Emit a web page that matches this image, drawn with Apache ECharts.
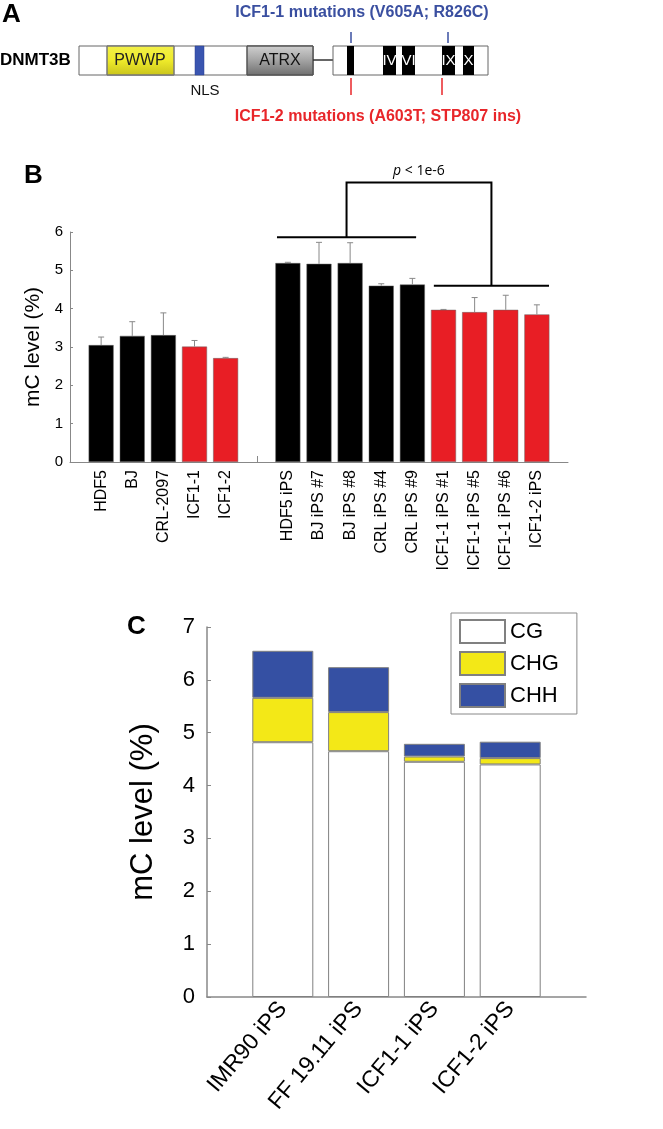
<!DOCTYPE html>
<html>
<head>
<meta charset="utf-8">
<script src="https://cdn.jsdelivr.net/npm/echarts@6/dist/echarts.min.js"></script>
<style>
html,body{margin:0;padding:0;background:#fff}
#main{width:663px;height:1129px}
</style>
</head>
<body>
<div id="main"></div>
<script>
// ---- panel B data ----
const parentCells = ['HDF5', 'BJ', 'CRL-2097', 'ICF1-1', 'ICF1-2']
const parentLevel = [3.05, 3.29, 3.31, 3.01, 2.71]
const parentErr = [0.21, 0.37, 0.58, 0.16, 0.02]

const ipsCells = ['HDF5 iPS', 'BJ iPS #7', 'BJ iPS #8', 'CRL iPS #4', 'CRL iPS #9',
  'ICF1-1 iPS #1', 'ICF1-1 iPS #5', 'ICF1-1 iPS #6', 'ICF1-2 iPS']
const ipsLevel = [5.19, 5.17, 5.19, 4.60, 4.63, 3.97, 3.91, 3.97, 3.85]
const ipsErr = [0.02, 0.56, 0.53, 0.05, 0.16, 0.01, 0.38, 0.38, 0.25]

const pLabel = 'p < 1e-6'

// ---- panel C data ----
const lines = ['IMR90 iPS', 'FF 19.11 iPS', 'ICF1-1 iPS', 'ICF1-2 iPS']
const cgLevel = [4.82, 4.65, 4.45, 4.40]
const chgLevel = [0.84, 0.74, 0.10, 0.12]
const chhLevel = [0.89, 0.85, 0.24, 0.31]

const FONT = 'Liberation Sans, Arial, sans-serif'
const NARROW = 'Liberation Sans Narrow, Liberation Sans, Arial, sans-serif'
const RED = '#e81e25'
const GRAY = '#888'

// B的类目：两端和两组之间各留一个空位
const catsB = [''].concat(parentCells, [''], ipsCells, [''])
const levelB = [null].concat(parentLevel, [null], ipsLevel, [null])
const errB = [null].concat(parentErr, [null], ipsErr, [null])
const gapIndex = parentCells.length + 1

const barDataB = levelB.map((v, i) => {
  if (v === null) return '-'
  return {
    value: v,
    itemStyle: {color: catsB[i].indexOf('ICF') === 0 ? RED : '#000'}
  }
})
const errDataB = []
levelB.forEach((v, i) => {
  if (v !== null) errDataB.push([i, v, errB[i]])
})

const catsC = [''].concat(lines, [''])
const pad = arr => [null].concat(arr, [null])

const chart = echarts.init(document.getElementById('main'))

/**
 * 画A图：DNMT3B 结构示意
 */
function diagramA() {
  const y0 = 46, h = 29
  const els = []
  els.push({type: 'text', left: 2, top: 2, style: {text: 'A', font: 'bold 26px ' + FONT, fill: '#000'}})
  els.push({type: 'text', left: 0, top: 52, style: {text: 'DNMT3B', font: 'bold 17px ' + FONT, fill: '#000'}})
  // 第一段
  els.push({type: 'rect', shape: {x: 79, y: y0, width: 234, height: h}, style: {fill: '#fff', stroke: '#666', lineWidth: 1}})
  els.push({type: 'rect', shape: {x: 107, y: y0, width: 67, height: h},
    style: {fill: new echarts.graphic.LinearGradient(0, 0, 0, 1, [
      {offset: 0, color: '#f2f04a'}, {offset: 0.5, color: '#eeea2a'}, {offset: 1, color: '#c9c41c'}]), stroke: '#777', lineWidth: 1}})
  els.push({type: 'text', x: 140, y: y0 + h / 2, style: {text: 'PWWP', font: '16px ' + FONT, fill: '#222', align: 'center', verticalAlign: 'middle'}})
  els.push({type: 'rect', shape: {x: 195, y: y0, width: 9, height: h}, style: {fill: '#3a55b0', stroke: '#2a3f90', lineWidth: 0.5}})
  els.push({type: 'text', x: 205, y: 91, style: {text: 'NLS', font: '15px ' + FONT, fill: '#111', align: 'center', verticalAlign: 'middle'}})
  els.push({type: 'rect', shape: {x: 247, y: y0, width: 66, height: h},
    style: {fill: new echarts.graphic.LinearGradient(0, 0, 0, 1, [
      {offset: 0, color: '#d0d0d0'}, {offset: 0.45, color: '#a8a8a8'}, {offset: 1, color: '#6e6e6e'}]), stroke: '#555', lineWidth: 1}})
  els.push({type: 'text', x: 280, y: y0 + h / 2, style: {text: 'ATRX', font: '16px ' + FONT, fill: '#111', align: 'center', verticalAlign: 'middle'}})
  els.push({type: 'line', shape: {x1: 313, y1: 60, x2: 333, y2: 60}, style: {stroke: '#333', lineWidth: 1.5}})
  // 第二段
  els.push({type: 'rect', shape: {x: 333, y: y0, width: 155, height: h}, style: {fill: '#fff', stroke: '#666', lineWidth: 1}})
  const motifs = [[347, 7, ''], [383, 13, 'IV'], [402, 13, 'VI'], [442, 13, 'IX'], [463, 11, 'X']]
  motifs.forEach(m => {
    els.push({type: 'rect', shape: {x: m[0], y: y0, width: m[1], height: h}, style: {fill: '#000'}})
    if (m[2]) {
      els.push({type: 'text', x: m[0] + m[1] / 2, y: y0 + h / 2, style: {text: m[2], font: '15px ' + FONT, fill: '#fff', align: 'center', verticalAlign: 'middle'}})
    }
  })
  // 突变标记
  const blue = '#3a4fa0'
  ;[351, 448].forEach(x => els.push({type: 'line', shape: {x1: x, y1: 32, x2: x, y2: 43}, style: {stroke: blue, lineWidth: 1.5}}))
  ;[351, 442].forEach(x => els.push({type: 'line', shape: {x1: x, y1: 78, x2: x, y2: 95}, style: {stroke: '#e8262a', lineWidth: 1.5}}))
  els.push({type: 'text', x: 362, y: 13, style: {text: 'ICF1-1 mutations (V605A; R826C)', font: 'bold 16px ' + NARROW, fill: blue, align: 'center', verticalAlign: 'middle'}})
  els.push({type: 'text', x: 378, y: 117, style: {text: 'ICF1-2 mutations (A603T; STP807 ins)', font: 'bold 16px ' + NARROW, fill: '#e8262a', align: 'center', verticalAlign: 'middle'}})
  els.push({type: 'text', left: 24, top: 163, style: {text: 'B', font: 'bold 26px ' + FONT, fill: '#000'}})
  els.push({type: 'text', left: 127, top: 614, style: {text: 'C', font: 'bold 26px ' + FONT, fill: '#000'}})
  return els
}

const option = {
  animation: false,
  backgroundColor: '#fff',
  textStyle: {fontFamily: FONT},
  grid: [
    {left: 70, right: 95, top: 232, bottom: 667, containLabel: false},
    {left: 207, right: 77, top: 627, bottom: 132, containLabel: false}
  ],
  legend: {
    data: ['CG', 'CHG', 'CHH'],
    orient: 'vertical',
    left: 451,
    top: 613,
    padding: [6, 18, 6, 8],
    itemWidth: 45,
    itemHeight: 23,
    itemGap: 7,
    borderColor: GRAY,
    borderWidth: 1,
    textStyle: {fontSize: 22, color: '#000', fontFamily: FONT, lineHeight: 24},
    icon: 'rect'
  },
  xAxis: [
    {
      type: 'category', gridIndex: 0, data: catsB, boundaryGap: false,
      axisLine: {lineStyle: {color: GRAY, width: 1}},
      axisTick: {show: true, inside: true, length: 6, interval: (i) => i === gapIndex, lineStyle: {color: GRAY}},
      axisLabel: {interval: 0, rotate: 90, fontSize: 16, color: '#000', margin: 8}
    },
    {
      type: 'category', gridIndex: 1, data: catsC, boundaryGap: false,
      axisLine: {lineStyle: {color: GRAY, width: 1.5}},
      axisTick: {show: false},
      axisLabel: {interval: 0, rotate: 50, fontSize: 23, color: '#000', margin: 8}
    }
  ],
  yAxis: [
    {
      type: 'value', gridIndex: 0, min: 0, max: 6, interval: 1,
      name: 'mC level (%)', nameLocation: 'middle', nameRotate: 90, nameGap: 26,
      nameTextStyle: {fontSize: 21, color: '#000'},
      axisLine: {show: true, lineStyle: {color: GRAY, width: 1}},
      axisTick: {show: true, inside: true, length: 3, lineStyle: {color: GRAY}},
      axisLabel: {fontSize: 15, color: '#000', margin: 7},
      splitLine: {show: false}
    },
    {
      type: 'value', gridIndex: 1, min: 0, max: 7, interval: 1,
      name: 'mC level (%)', nameLocation: 'middle', nameRotate: 90, nameGap: 48,
      nameTextStyle: {fontSize: 31, color: '#000'},
      axisLine: {show: true, lineStyle: {color: GRAY, width: 1.5}},
      axisTick: {show: true, inside: true, length: 4, lineStyle: {color: GRAY}},
      axisLabel: {fontSize: 22, color: '#000', margin: 12},
      splitLine: {show: false}
    }
  ],
  series: [
    {
      name: 'B', type: 'bar', xAxisIndex: 0, yAxisIndex: 0, barWidth: 25,
      itemStyle: {borderColor: '#666', borderWidth: 0.5},
      data: barDataB
    },
    {
      name: 'Berr', type: 'custom', xAxisIndex: 0, yAxisIndex: 0,
      encode: {x: 0, y: 1},
      renderItem: function (params, api) {
        const x = api.value(0), v = api.value(1), e = api.value(2)
        const p0 = api.coord([x, v])
        const p1 = api.coord([x, v + e])
        const st = {stroke: GRAY, lineWidth: 1}
        return {
          type: 'group',
          children: [
            {type: 'line', shape: {x1: p0[0], y1: p0[1], x2: p1[0], y2: p1[1]}, style: st},
            {type: 'line', shape: {x1: p1[0] - 3, y1: p1[1], x2: p1[0] + 3, y2: p1[1]}, style: st}
          ]
        }
      },
      data: errDataB,
      z: 3
    },
    {
      name: 'CG', type: 'bar', stack: 'c', xAxisIndex: 1, yAxisIndex: 1, barWidth: 61,
      itemStyle: {color: '#fff', borderColor: '#808080', borderWidth: 1},
      data: pad(cgLevel)
    },
    {
      name: 'CHG', type: 'bar', stack: 'c', xAxisIndex: 1, yAxisIndex: 1, barWidth: 61,
      itemStyle: {color: '#f3e817', borderColor: '#808080', borderWidth: 1},
      data: pad(chgLevel)
    },
    {
      name: 'CHH', type: 'bar', stack: 'c', xAxisIndex: 1, yAxisIndex: 1, barWidth: 61,
      itemStyle: {color: '#3550a3', borderColor: '#808080', borderWidth: 1},
      data: pad(chhLevel)
    }
  ],
  graphic: diagramA()
}
chart.setOption(option)

// 显著性括号：按类目位置换算像素
const last = catsB.length - 1
const pA = chart.convertToPixel({xAxisIndex: 0, yAxisIndex: 0}, [0, 0])
const pB = chart.convertToPixel({xAxisIndex: 0, yAxisIndex: 0}, [last, 0])
const px = i => pA[0] + (pB[0] - pA[0]) * i / last
const py = v => chart.convertToPixel({yAxisIndex: 0}, v)

const bracketLeft = {from: 6.65, to: 11.12, level: 5.86}
const bracketRight = {from: 11.69, to: 15.39, level: 4.6}
const bracketTop = 7.29

const bl = {x1: px(bracketLeft.from), x2: px(bracketLeft.to), y: py(bracketLeft.level)}
const br = {x1: px(bracketRight.from), x2: px(bracketRight.to), y: py(bracketRight.level)}
const midL = (bl.x1 + bl.x2) / 2, midR = (br.x1 + br.x2) / 2
const yTop = py(bracketTop)
const bst = {stroke: '#000', lineWidth: 2}

const extra = [
  {type: 'line', shape: {x1: bl.x1, y1: bl.y, x2: bl.x2, y2: bl.y}, style: bst},
  {type: 'line', shape: {x1: br.x1, y1: br.y, x2: br.x2, y2: br.y}, style: bst},
  {type: 'polyline', shape: {points: [[midL, bl.y], [midL, yTop], [midR, yTop], [midR, br.y]]}, style: {stroke: '#000', lineWidth: 2, fill: null}},
  {type: 'text', x: (midL + midR) / 2, y: yTop - 12,
    style: {
      text: '{i|' + pLabel.charAt(0) + '}' + pLabel.slice(1),
      rich: {i: {fontStyle: 'italic', fontSize: 14, fontFamily: 'Open Sans, ' + FONT}},
      font: '14px Open Sans, ' + FONT, fill: '#000', align: 'center', verticalAlign: 'middle'
    }}
]
chart.setOption({graphic: diagramA().concat(extra)})
</script>
</body>
</html>
